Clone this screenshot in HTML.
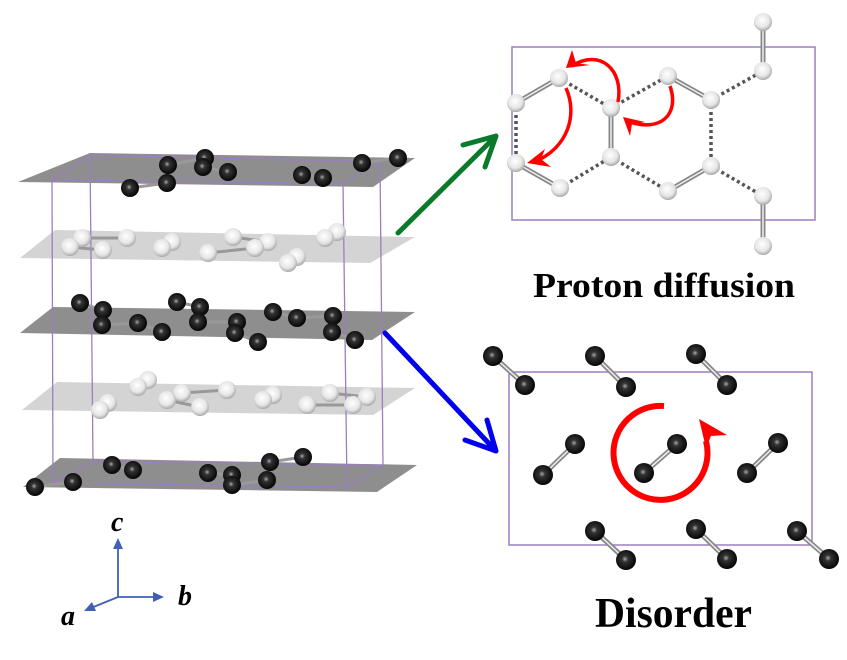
<!DOCTYPE html>
<html><head><meta charset="utf-8"><style>html,body{margin:0;padding:0;background:#fff}svg{display:block}</style></head>
<body>
<svg width="847" height="660" viewBox="0 0 847 660" xmlns="http://www.w3.org/2000/svg">
<defs>
<radialGradient id="dk" cx="0.45" cy="0.45" r="0.6"><stop offset="0" stop-color="#aaa"/><stop offset="0.25" stop-color="#333"/><stop offset="1" stop-color="#000"/></radialGradient>
<radialGradient id="lt" cx="0.45" cy="0.4" r="0.65"><stop offset="0" stop-color="#fff"/><stop offset="0.6" stop-color="#e6e6e6"/><stop offset="1" stop-color="#9a9a9a"/></radialGradient>
</defs>

<!-- planes -->
<polygon points="18,182 90,153 415,158 373,187" fill="#8e8e8e"/>
<polygon points="20,258 55,230 415,237 370,263" fill="#d4d4d4"/>
<polygon points="20,333 53,307 415,312 372,340" fill="#8e8e8e"/>
<polygon points="22,410 57,382 415,388 373,415" fill="#d4d4d4"/>
<polygon points="23,487 60,458 417,465 377,492" fill="#8e8e8e"/>

<!-- box -->
<g stroke="#9b7fbf" stroke-width="1.3" fill="none">
<polyline points="52,180 343,183 380,162 90,155 52,180"/>
<polyline points="53,483 347,487 383,465 93,462 53,483"/>
<line x1="52" y1="180" x2="53" y2="483"/>
<line x1="343" y1="183" x2="347" y2="487"/>
<line x1="380" y1="162" x2="383" y2="465"/>
<line x1="90" y1="155" x2="93" y2="462"/>
</g>

<!-- left bonds -->
<g stroke="#999" stroke-width="3">
<line x1="130" y1="188" x2="167" y2="183"/><line x1="168" y1="165" x2="205" y2="158"/><line x1="203" y1="167" x2="228" y2="172"/><line x1="302" y1="175" x2="323" y2="178"/><line x1="362" y1="163" x2="398" y2="158"/>
<line x1="70" y1="247" x2="103" y2="250"/><line x1="82" y1="238" x2="127" y2="238"/><line x1="162" y1="248" x2="172" y2="242"/><line x1="208" y1="253" x2="255" y2="248"/><line x1="233" y1="237" x2="268" y2="242"/><line x1="288" y1="263" x2="297" y2="257"/><line x1="325" y1="238" x2="337" y2="232"/>
<line x1="80" y1="303" x2="103" y2="310"/><line x1="102" y1="325" x2="138" y2="323"/><line x1="138" y1="323" x2="162" y2="332"/><line x1="177" y1="302" x2="200" y2="307"/><line x1="198" y1="322" x2="237" y2="322"/><line x1="235" y1="333" x2="258" y2="342"/><line x1="273" y1="312" x2="297" y2="318"/><line x1="297" y1="318" x2="333" y2="316"/><line x1="332" y1="332" x2="355" y2="340"/>
<line x1="138" y1="387" x2="148" y2="380"/><line x1="100" y1="410" x2="108" y2="403"/><line x1="167" y1="400" x2="200" y2="407"/><line x1="182" y1="393" x2="227" y2="390"/><line x1="263" y1="400" x2="273" y2="395"/><line x1="307" y1="405" x2="353" y2="405"/><line x1="330" y1="393" x2="367" y2="397"/>
<line x1="35" y1="487" x2="73" y2="482"/><line x1="112" y1="465" x2="133" y2="470"/><line x1="208" y1="473" x2="232" y2="475"/><line x1="232" y1="485" x2="267" y2="480"/><line x1="270" y1="462" x2="303" y2="457"/>
</g>
<!-- left atoms dark -->
<g fill="url(#dk)">
<circle cx="167" cy="183" r="9"/><circle cx="130" cy="188" r="9"/><circle cx="205" cy="158" r="9"/><circle cx="168" cy="165" r="9"/><circle cx="228" cy="172" r="9"/><circle cx="203" cy="167" r="9"/><circle cx="302" cy="175" r="9"/><circle cx="323" cy="178" r="9"/><circle cx="362" cy="163" r="9"/><circle cx="398" cy="158" r="9"/>
<circle cx="80" cy="303" r="9"/><circle cx="103" cy="310" r="9"/><circle cx="177" cy="302" r="9"/><circle cx="200" cy="307" r="9"/><circle cx="273" cy="312" r="9"/><circle cx="333" cy="316" r="9"/><circle cx="102" cy="325" r="9"/><circle cx="198" cy="322" r="9"/><circle cx="237" cy="322" r="9"/><circle cx="297" cy="318" r="9"/><circle cx="138" cy="323" r="9"/><circle cx="162" cy="332" r="9"/><circle cx="235" cy="333" r="9"/><circle cx="258" cy="342" r="9"/><circle cx="332" cy="332" r="9"/><circle cx="355" cy="340" r="9"/>
<circle cx="270" cy="462" r="9"/><circle cx="303" cy="457" r="9"/><circle cx="112" cy="465" r="9"/><circle cx="133" cy="470" r="9"/><circle cx="208" cy="473" r="9"/><circle cx="232" cy="475" r="9"/><circle cx="267" cy="480" r="9"/><circle cx="232" cy="485" r="9"/><circle cx="73" cy="482" r="9"/><circle cx="35" cy="487" r="9"/>
</g>
<g fill="url(#lt)">
<circle cx="82" cy="238" r="9"/><circle cx="127" cy="238" r="9"/><circle cx="70" cy="247" r="9"/><circle cx="103" cy="250" r="9"/><circle cx="172" cy="242" r="9"/><circle cx="162" cy="248" r="9"/><circle cx="233" cy="237" r="9"/><circle cx="268" cy="242" r="9"/><circle cx="255" cy="248" r="9"/><circle cx="208" cy="253" r="9"/><circle cx="297" cy="257" r="9"/><circle cx="288" cy="263" r="9"/><circle cx="337" cy="232" r="9"/><circle cx="325" cy="238" r="9"/>
<circle cx="148" cy="380" r="9"/><circle cx="138" cy="387" r="9"/><circle cx="108" cy="403" r="9"/><circle cx="100" cy="410" r="9"/><circle cx="182" cy="393" r="9"/><circle cx="227" cy="390" r="9"/><circle cx="167" cy="400" r="9"/><circle cx="200" cy="407" r="9"/><circle cx="273" cy="395" r="9"/><circle cx="263" cy="400" r="9"/><circle cx="330" cy="393" r="9"/><circle cx="367" cy="397" r="9"/><circle cx="307" cy="405" r="9"/><circle cx="353" cy="405" r="9"/>
</g>

<!-- arrows -->
<g stroke-width="5" fill="none" stroke-linecap="round" stroke-linejoin="round">
<path d="M398,233 L496,136 M463,145 L496,136 L485,167" stroke="#0a7a2a"/>
<path d="M385,333 L496,451 M465,440 L496,451 L487,420" stroke="#0000ee"/>
</g>

<!-- axes -->
<g stroke="#4060b8" stroke-width="1.8" fill="#4060b8">
<line x1="118" y1="597" x2="118" y2="546"/><polygon points="118,538 113,549 123,549" stroke="none"/>
<line x1="118" y1="597" x2="156" y2="597"/><polygon points="164,597 153,592 153,602" stroke="none"/>
<line x1="118" y1="597" x2="91" y2="608"/><polygon points="84,611 92,602 96,611" stroke="none"/>
</g>
<g font-family="Liberation Serif, serif" font-weight="bold" font-style="italic" font-size="28" fill="#000">
<text x="111" y="531">c</text><text x="178" y="605">b</text><text x="61" y="625">a</text>
</g>

<!-- top right panel -->
<rect x="512" y="47" width="303" height="173" fill="none" stroke="#9b7fbf" stroke-width="1.5"/>
<g stroke="#555" stroke-width="3.5" stroke-dasharray="3,3">
<line x1="559" y1="78" x2="611" y2="108"/><line x1="611" y1="108" x2="668" y2="76"/><line x1="516" y1="103" x2="516" y2="163"/><line x1="560" y1="188" x2="611" y2="157"/><line x1="611" y1="157" x2="668" y2="191"/><line x1="711" y1="100" x2="711" y2="166"/><line x1="711" y1="100" x2="763" y2="71"/><line x1="711" y1="166" x2="763" y2="196"/>
</g>
<g stroke="#888" stroke-width="5">
<line x1="763" y1="22" x2="763" y2="71"/><line x1="559" y1="78" x2="516" y2="103"/><line x1="611" y1="108" x2="611" y2="157"/><line x1="668" y1="76" x2="711" y2="100"/><line x1="516" y1="163" x2="560" y2="188"/><line x1="668" y1="191" x2="711" y2="166"/><line x1="763" y1="196" x2="763" y2="246"/>
</g>
<g stroke="#eee" stroke-width="1.5">
<line x1="763" y1="22" x2="763" y2="71"/><line x1="559" y1="78" x2="516" y2="103"/><line x1="611" y1="108" x2="611" y2="157"/><line x1="668" y1="76" x2="711" y2="100"/><line x1="516" y1="163" x2="560" y2="188"/><line x1="668" y1="191" x2="711" y2="166"/><line x1="763" y1="196" x2="763" y2="246"/>
</g>
<g fill="url(#lt)">
<circle cx="763" cy="22" r="9"/><circle cx="763" cy="71" r="9"/><circle cx="559" cy="78" r="9"/><circle cx="516" cy="103" r="9"/><circle cx="611" cy="108" r="9"/><circle cx="668" cy="76" r="9"/><circle cx="711" cy="100" r="9"/><circle cx="516" cy="163" r="9"/><circle cx="560" cy="188" r="9"/><circle cx="611" cy="157" r="9"/><circle cx="668" cy="191" r="9"/><circle cx="711" cy="166" r="9"/><circle cx="763" cy="196" r="9"/><circle cx="763" cy="246" r="9"/>
</g>
<g stroke="#f00" stroke-width="3.5" fill="none">
<path d="M618,102 C624,70 600,48 572,66"/>
<path d="M566,88 C578,115 568,148 534,162"/>
<path d="M670,86 C680,115 660,132 630,122"/>
</g>
<g fill="#f00">
<polygon points="566,68 572,50 576,63 590,65"/>
<polygon points="527,163 545,149 541,159 551,167"/>
<polygon points="623,117 630,136 632,124 645,122"/>
</g>

<!-- bottom right panel -->
<rect x="509" y="372" width="303" height="173" fill="none" stroke="#9b7fbf" stroke-width="1.5"/>
<g stroke="#888" stroke-width="5">
<line x1="493" y1="356" x2="525" y2="385"/><line x1="595" y1="356" x2="626" y2="387"/><line x1="696" y1="354" x2="727" y2="385"/><line x1="543" y1="475" x2="575" y2="444"/><line x1="644" y1="473" x2="677" y2="444"/><line x1="747" y1="473" x2="778" y2="443"/><line x1="595" y1="531" x2="626" y2="560"/><line x1="696" y1="529" x2="727" y2="559"/><line x1="797" y1="531" x2="829" y2="559"/>
</g>
<g stroke="#eee" stroke-width="1.5">
<line x1="493" y1="356" x2="525" y2="385"/><line x1="595" y1="356" x2="626" y2="387"/><line x1="696" y1="354" x2="727" y2="385"/><line x1="543" y1="475" x2="575" y2="444"/><line x1="644" y1="473" x2="677" y2="444"/><line x1="747" y1="473" x2="778" y2="443"/><line x1="595" y1="531" x2="626" y2="560"/><line x1="696" y1="529" x2="727" y2="559"/><line x1="797" y1="531" x2="829" y2="559"/>
</g>
<g fill="url(#dk)">
<circle cx="493" cy="356" r="10"/><circle cx="525" cy="385" r="10"/><circle cx="595" cy="356" r="10"/><circle cx="626" cy="387" r="10"/><circle cx="696" cy="354" r="10"/><circle cx="727" cy="385" r="10"/><circle cx="543" cy="475" r="10"/><circle cx="575" cy="444" r="10"/><circle cx="644" cy="473" r="10"/><circle cx="677" cy="444" r="10"/><circle cx="747" cy="473" r="10"/><circle cx="778" cy="443" r="10"/><circle cx="595" cy="531" r="10"/><circle cx="626" cy="560" r="10"/><circle cx="696" cy="529" r="10"/><circle cx="727" cy="559" r="10"/><circle cx="797" cy="531" r="10"/><circle cx="829" cy="559" r="10"/>
</g>
<path d="M664,406 A47,47 0 1 0 706,441" stroke="#f00" stroke-width="6" fill="none"/>
<polygon points="699,419 727,435 711,436 706,448" fill="#f00"/>

<!-- labels -->
<g font-family="Liberation Serif, serif" font-weight="bold" fill="#000">
<text x="533" y="297" font-size="35" textLength="262" lengthAdjust="spacingAndGlyphs">Proton diffusion</text>
<text x="595" y="627" font-size="42" textLength="157" lengthAdjust="spacingAndGlyphs">Disorder</text>
</g>
</svg>
</body></html>
